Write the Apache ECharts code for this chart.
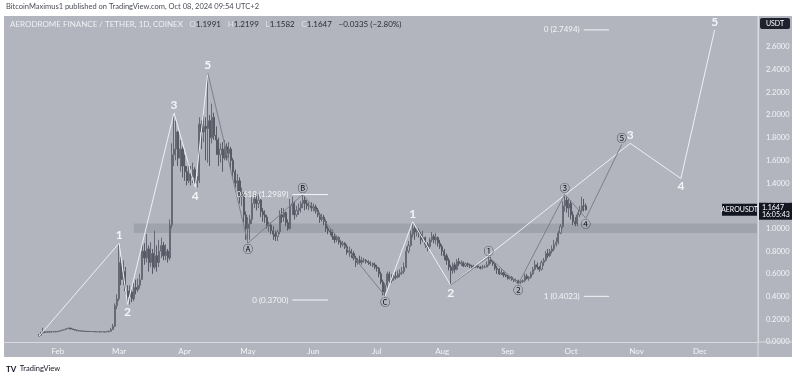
<!DOCTYPE html>
<html>
<head>
<meta charset="utf-8">
<script src="https://cdn.jsdelivr.net/npm/echarts@6/dist/echarts.min.js"></script>
<style>
  html, body { margin: 0; background: #fff; }
  #chart { width: 800px; height: 377px; }
</style>
</head>
<body>
<div id="chart"></div>
<script>
// AERO/USDT daily, 2024-01-23 .. 2024-10-08 (open = previous close)
const firstDay = "2024-01-23";
const firstOpen = 0.05;
const closes = [
  // Jan 23-31
  0.06, 0.08, 0.09, 0.085, 0.09, 0.088, 0.09, 0.092, 0.09,
  // Feb
  0.095, 0.1, 0.105, 0.11, 0.118, 0.122, 0.115, 0.11, 0.105, 0.1, 0.098, 0.097, 0.095, 0.094, 0.093,
  0.092, 0.092, 0.091, 0.09, 0.09, 0.089, 0.09, 0.088, 0.09, 0.095, 0.11, 0.14, 0.32, 0.38,
  // Mar
  0.7, 0.55, 0.62, 0.45, 0.4, 0.44, 0.38, 0.48, 0.46, 0.5, 0.55, 0.8, 0.74, 0.82, 0.7, 0.78,
  0.66, 0.76, 0.7, 0.8, 0.85, 0.76, 0.8, 0.74, 1.03, 1.65, 1.7, 1.85, 1.62, 1.7, 1.55,
  // Apr
  1.5, 1.42, 1.48, 1.45, 1.52, 1.4, 1.42, 1.92, 1.85, 1.9, 1.88, 1.95, 1.8, 1.98, 1.82,
  1.78, 1.65, 1.7, 1.62, 1.72, 1.66, 1.7, 1.6, 1.5, 1.4, 1.42, 1.28, 1.3, 1.12, 1.0,
  // May
  1.04, 1.08, 1.22, 1.26, 1.22, 1.25, 1.15, 1.12, 1.1, 1.02, 1.03, 0.98, 0.95, 0.93, 0.97, 1.12,
  1.1, 1.14, 1.05, 1.0, 1.2, 1.22, 1.12, 1.16, 1.18, 1.22, 1.25, 1.22, 1.2, 1.2, 1.18,
  // Jun
  1.19, 1.16, 1.12, 1.08, 1.1, 1.06, 1.0, 0.98, 0.97, 0.93, 0.9, 0.92, 0.88, 0.86, 0.87,
  0.84, 0.79, 0.8, 0.78, 0.74, 0.7, 0.72, 0.7, 0.72, 0.72, 0.71, 0.7, 0.69, 0.68, 0.66,
  // Jul
  0.65, 0.6, 0.53, 0.44, 0.5, 0.6, 0.54, 0.56, 0.58, 0.57, 0.6, 0.61, 0.62, 0.66, 0.8, 0.85,
  0.95, 1.0, 0.97, 0.98, 0.95, 0.9, 0.92, 0.86, 0.84, 0.9, 0.93, 0.9, 0.92, 0.87, 0.84,
  // Aug
  0.8, 0.76, 0.72, 0.66, 0.63, 0.68, 0.64, 0.71, 0.69, 0.7, 0.67, 0.69, 0.68, 0.67, 0.66, 0.66,
  0.67, 0.66, 0.65, 0.66, 0.66, 0.68, 0.72, 0.71, 0.69, 0.65, 0.64, 0.6, 0.61, 0.59, 0.58,
  // Sep
  0.56, 0.57, 0.55, 0.54, 0.54, 0.52, 0.53, 0.54, 0.58, 0.56, 0.57, 0.6, 0.64, 0.68, 0.66,
  0.64, 0.7, 0.72, 0.78, 0.76, 0.8, 0.82, 0.86, 0.88, 0.96, 1.02, 1.2, 1.25, 1.18, 1.22,
  // Oct 1-8
  1.12, 1.06, 1.04, 1.12, 1.16, 1.2, 1.1991, 1.1647,
];
const highs = [
  0.07, 0.09, 0.125, 0.095, 0.095, 0.093, 0.095, 0.097, 0.095,
  0.098, 0.103, 0.108, 0.113, 0.12, 0.128, 0.124, 0.117, 0.11, 0.106, 0.102, 0.1, 0.099, 0.097, 0.096,
  0.095, 0.095, 0.094, 0.093, 0.093, 0.092, 0.093, 0.092, 0.093, 0.1, 0.125, 0.16, 0.34, 0.42,
  0.87, 0.75, 0.72, 0.66, 0.5, 0.5, 0.48, 0.52, 0.55, 0.56, 0.6, 0.86, 0.87, 0.95, 0.85, 0.88,
  0.82, 0.98, 0.85, 0.9, 0.92, 0.88, 0.86, 0.82, 1.08, 1.75, 2.02, 1.95, 1.86, 1.78, 1.72,
  1.65, 1.55, 1.58, 1.55, 1.58, 1.54, 1.46, 1.98, 1.95, 2.0, 1.98, 2.37, 2.0, 2.1, 2.02,
  1.9, 1.8, 1.75, 1.76, 1.78, 1.75, 1.76, 1.72, 1.62, 1.52, 1.48, 1.45, 1.36, 1.32, 1.15,
  1.1, 1.12, 1.28, 1.3, 1.3, 1.3, 1.26, 1.18, 1.16, 1.12, 1.06, 1.05, 1.02, 0.98, 0.99, 1.16,
  1.18, 1.18, 1.15, 1.08, 1.26, 1.28, 1.24, 1.2, 1.22, 1.24, 1.3, 1.28, 1.25, 1.23, 1.23,
  1.22, 1.21, 1.18, 1.14, 1.13, 1.12, 1.08, 1.02, 1.0, 0.99, 0.95, 0.94, 0.93, 0.9, 0.89,
  0.88, 0.86, 0.84, 0.82, 0.8, 0.76, 0.74, 0.76, 0.75, 0.74, 0.73, 0.72, 0.71, 0.7, 0.7,
  0.68, 0.66, 0.62, 0.55, 0.52, 0.62, 0.62, 0.6, 0.6, 0.62, 0.63, 0.64, 0.66, 0.7, 0.84, 0.89,
  0.98, 1.06, 1.02, 1.01, 1.0, 0.97, 0.98, 0.93, 0.88, 0.92, 0.97, 0.95, 0.96, 0.93, 0.9,
  0.86, 0.82, 0.78, 0.74, 0.68, 0.7, 0.7, 0.73, 0.74, 0.72, 0.71, 0.7, 0.7, 0.69, 0.68, 0.68,
  0.68, 0.68, 0.67, 0.68, 0.68, 0.71, 0.75, 0.75, 0.72, 0.7, 0.67, 0.65, 0.64, 0.62, 0.6,
  0.59, 0.58, 0.58, 0.56, 0.56, 0.55, 0.54, 0.55, 0.6, 0.6, 0.58, 0.62, 0.66, 0.72, 0.7,
  0.67, 0.72, 0.74, 0.8, 0.82, 0.82, 0.85, 0.9, 0.92, 0.98, 1.04, 1.24, 1.3, 1.28, 1.27,
  1.25, 1.15, 1.1, 1.14, 1.2, 1.28, 1.26, 1.2199,
];
const lows = [
  0.045, 0.055, 0.075, 0.078, 0.083, 0.082, 0.085, 0.087, 0.085,
  0.088, 0.093, 0.098, 0.103, 0.108, 0.114, 0.11, 0.106, 0.1, 0.096, 0.095, 0.094, 0.092, 0.091, 0.09,
  0.089, 0.089, 0.088, 0.087, 0.087, 0.086, 0.087, 0.085, 0.086, 0.088, 0.093, 0.105, 0.13, 0.29,
  0.36, 0.5, 0.5, 0.42, 0.33, 0.33, 0.35, 0.36, 0.42, 0.44, 0.47, 0.55, 0.68, 0.7, 0.62, 0.66,
  0.6, 0.64, 0.62, 0.66, 0.74, 0.72, 0.72, 0.7, 0.72, 1.0, 1.55, 1.6, 1.55, 1.5, 1.45,
  1.42, 1.38, 1.4, 1.38, 1.4, 1.36, 1.36, 1.4, 1.7, 1.76, 1.6, 1.58, 1.55, 1.75, 1.78,
  1.65, 1.55, 1.58, 1.5, 1.6, 1.6, 1.62, 1.52, 1.45, 1.36, 1.3, 1.22, 1.2, 1.05, 0.9,
  0.87, 0.9, 1.04, 1.18, 1.16, 1.18, 1.1, 1.06, 1.05, 1.0, 0.97, 0.95, 0.9, 0.89, 0.89, 0.95,
  1.05, 1.06, 1.02, 0.98, 0.99, 1.12, 1.08, 1.1, 1.12, 1.14, 1.18, 1.16, 1.17, 1.16, 1.15,
  1.15, 1.13, 1.1, 1.05, 1.06, 1.03, 0.97, 0.95, 0.94, 0.9, 0.87, 0.88, 0.86, 0.83, 0.84,
  0.82, 0.77, 0.75, 0.74, 0.72, 0.66, 0.68, 0.69, 0.68, 0.7, 0.69, 0.68, 0.67, 0.66, 0.64,
  0.62, 0.57, 0.51, 0.41, 0.405, 0.48, 0.52, 0.52, 0.54, 0.55, 0.56, 0.57, 0.59, 0.6, 0.65, 0.78,
  0.84, 0.92, 0.9, 0.93, 0.92, 0.86, 0.88, 0.83, 0.8, 0.82, 0.88, 0.87, 0.86, 0.84, 0.82,
  0.76, 0.72, 0.68, 0.63, 0.5, 0.6, 0.61, 0.63, 0.67, 0.67, 0.66, 0.66, 0.66, 0.65, 0.64, 0.65,
  0.65, 0.65, 0.64, 0.64, 0.65, 0.66, 0.67, 0.69, 0.67, 0.63, 0.6, 0.59, 0.59, 0.57, 0.57,
  0.55, 0.55, 0.54, 0.53, 0.53, 0.51, 0.51, 0.52, 0.53, 0.55, 0.54, 0.56, 0.59, 0.63, 0.64,
  0.62, 0.63, 0.67, 0.71, 0.74, 0.75, 0.78, 0.8, 0.84, 0.86, 0.95, 1.0, 1.15, 1.14, 1.1,
  1.08, 1.03, 1.02, 1.02, 1.1, 1.14, 1.15, 1.1582,
];

// Elliott wave pivots: [date, price, label]
const waveMain = [["2024-01-23", 0.05, ""], ["2024-03-01", 0.87, "1"], ["2024-03-05", 0.33, "2"],
  ["2024-03-27", 2.02, "3"], ["2024-04-06", 1.36, "4"], ["2024-04-12", 2.37, "5"]];
const waveABC = [["2024-04-12", 2.37, ""], ["2024-05-01", 0.87, "Ⓐ"], ["2024-05-27", 1.3, "Ⓑ"],
  ["2024-07-05", 0.405, "Ⓒ"]];
const waveNew = [["2024-07-05", 0.405, ""], ["2024-07-18", 1.06, "1"], ["2024-08-05", 0.5, "2"],
  ["2024-10-29", 1.75, "3"], ["2024-11-22", 1.44, "4"], ["2024-12-08", 2.75, "5"]];
const waveSub = [["2024-08-05", 0.5, ""], ["2024-08-23", 0.75, "①"], ["2024-09-06", 0.51, "②"],
  ["2024-09-28", 1.3, "③"], ["2024-10-08", 1.09, "④"], ["2024-10-25", 1.74, "⑤"]];

// fib levels: [from, to, price, text]
const fibLevels = [
  ["2024-05-22", "2024-06-08", 1.2989, "0.618 (1.2989)"],
  ["2024-05-22", "2024-06-08", 0.37, "0 (0.3700)"],
  ["2024-10-07", "2024-10-19", 0.4023, "1 (0.4023)"],
  ["2024-10-07", "2024-10-19", 2.7494, "0 (2.7494)"],
];
const supportZone = [0.96, 1.045];
const supportFrom = "2024-03-08";

const axisFirstDay = "2024-01-07";
const axisDays = 357;
const monthNames = ["Jan", "Feb", "Mar", "Apr", "May", "Jun", "Jul", "Aug", "Sep", "Oct", "Nov", "Dec"];
const yTicks = { min: 0, max: 2.872, step: 0.2 };

function addDays(s, n) {
  const d = new Date(s + "T00:00:00Z");
  d.setUTCDate(d.getUTCDate() + n);
  return d.toISOString().slice(0, 10);
}

const categories = [];
for (let i = 0; i < axisDays; i++) categories.push(addDays(axisFirstDay, i));

const candleByDate = {};
closes.forEach((c, i) => {
  const o = i === 0 ? firstOpen : closes[i - 1];
  const h = Math.max(highs[i], o, c);
  const l = Math.min(lows[i], o, c);
  candleByDate[addDays(firstDay, i)] = [o, c, l, h];
});
const candleData = categories.map((d) => candleByDate[d] || "-");

const WHITE = "#f4f5f8";
const DARK = "#131722";
const numLabel = { color: WHITE, fontSize: 12, fontWeight: "bold", fontFamily: "Lato", distance: 2 };
const circLabel = { color: DARK, fontSize: 10, fontFamily: "Noto Sans CJK SC", distance: 1 };

function waveSeries(points, lineColor, labelStyle) {
  return {
    type: "line",
    symbol: "circle",
    symbolSize: 0,
    showSymbol: true,
    silent: true,
    z: 5,
    lineStyle: { color: lineColor, width: 1 },
    data: points.map((p, i) => ({
      value: [p[0], p[1]],
      label: {
        show: p[2] !== "",
        formatter: p[2],
        position: i > 0 && p[1] < points[i - 1][1] ? "bottom" : "top",
        ...labelStyle,
      },
    })),
  };
}

const fibSeries = fibLevels.map((f) => ({
  type: "line",
  symbol: "circle",
  symbolSize: 0,
  showSymbol: true,
  silent: true,
  z: 5,
  lineStyle: { color: WHITE, width: 1 },
  data: [
    { value: [f[0], f[2]], label: { show: true, position: "left", formatter: f[3], color: WHITE, fontSize: 8, fontFamily: "Lato", distance: 4 } },
    { value: [f[1], f[2]] },
  ],
}));

const chart = echarts.init(document.getElementById("chart"));

const option = {
  backgroundColor: "#ffffff",
  animation: false,
  grid: { left: 4, right: 42, top: 16, bottom: 35 },
  xAxis: {
    type: "category",
    data: categories,
    boundaryGap: true,
    axisLine: { lineStyle: { color: "#d8dae0" } },
    axisTick: { show: false },
    splitLine: { show: false },
    axisLabel: {
      interval: (idx, v) => v.endsWith("-01"),
      formatter: (v) => monthNames[Number(v.slice(5, 7)) - 1],
      color: WHITE,
      fontSize: 8,
      fontFamily: "Lato",
      margin: 5,
    },
  },
  yAxis: {
    type: "value",
    position: "right",
    min: yTicks.min,
    max: yTicks.max,
    interval: yTicks.step,
    axisLine: { show: true, lineStyle: { color: "#d8dae0" } },
    axisTick: { show: false },
    splitLine: { show: false },
    axisLabel: {
      formatter: (v) => (v > 2.7 ? "" : v.toFixed(4)),
      color: WHITE,
      fontSize: 7.5,
      fontFamily: "Lato",
      margin: 8,
    },
  },
  series: [
    {
      type: "candlestick",
      data: candleData,
      barWidth: 1.6,
      itemStyle: {
        color: "#b4b7be",
        borderColor: "#676a74",
        color0: "#585b65",
        borderColor0: "#585b65",
        borderWidth: 1,
      },
      markArea: {
        silent: true,
        itemStyle: { color: "rgba(120,123,134,0.32)" },
        data: [[
          { xAxis: supportFrom, yAxis: supportZone[0] },
          { xAxis: categories[categories.length - 1], yAxis: supportZone[1] },
        ]],
      },
    },
    waveSeries(waveMain, "#eef0f4", numLabel),
    waveSeries(waveABC, "#7d8089", circLabel),
    waveSeries(waveNew, "#eef0f4", numLabel),
    waveSeries(waveSub, "#7d8089", circLabel),
    ...fibSeries,
  ],
};

chart.setOption(option);

// price badges placed through the y scale
const last = closes[closes.length - 1];
const yLast = chart.convertToPixel({ yAxisIndex: 0 }, last);

chart.setOption({
  graphic: [
    { type: "rect", z: -10, shape: { x: 4, y: 16, width: 788, height: 341 }, style: { fill: "#b2b5be" } },
    { type: "line", z: 1, shape: { x1: 758, y1: 16, x2: 758, y2: 357 }, style: { stroke: "#d8dae0", lineWidth: 1 } },
    { type: "line", z: 1, shape: { x1: 758, y1: 342, x2: 792, y2: 342 }, style: { stroke: "#d8dae0", lineWidth: 1 } },
    {
      type: "text", left: 6, top: 3,
      style: { text: "BitcoinMaximus1 published on TradingView.com, Oct 08, 2024 09:54 UTC+2", fill: "#4a4d57", font: "7.5px Lato" },
    },
    {
      type: "text", left: 10, top: 18.5,
      style: {
        text: "{t|AERODROME FINANCE / TETHER, 1D, COINEX}  {k|O}{v|1.1991}  {k|H}{v|1.2199}  {k|L}{v|1.1582}  {k|C}{v|1.1647}  {v|−0.0335 (−2.80%)}",
        rich: {
          t: { fill: "#eef0f4", font: "8px Lato" },
          k: { fill: "#dfe1e6", font: "8px Lato" },
          v: { fill: "#2a2e39", font: "8px Lato" },
        },
      },
    },
    { type: "rect", shape: { x: 760, y: 18, width: 30, height: 11, r: 2 }, style: { fill: "#1e222d" } },
    { type: "text", x: 775, y: 23.5, style: { text: "USDT", fill: "#fff", font: "7px Lato", align: "center", verticalAlign: "middle" } },
    { type: "rect", z: 10, shape: { x: 722, y: yLast - 6, width: 35, height: 12 }, style: { fill: "#131722" } },
    { type: "text", z: 11, x: 739.5, y: yLast, style: { text: "AEROUSDT", fill: "#fff", font: "7px Lato", align: "center", verticalAlign: "middle" } },
    { type: "rect", z: 10, shape: { x: 759, y: yLast - 7, width: 33, height: 17 }, style: { fill: "#131722" } },
    { type: "text", z: 11, x: 762, y: yLast - 2.5, style: { text: String(last), fill: "#fff", font: "7px Lato", verticalAlign: "middle" } },
    { type: "text", z: 11, x: 762, y: yLast + 5, style: { text: "16:05:43", fill: "#fff", font: "7px Lato", verticalAlign: "middle" } },
    {
      type: "text", left: 6, top: 363,
      style: { text: "{b|TV} {n|TradingView}", rich: { b: { fill: "#131722", font: "bold 8px Lato" }, n: { fill: "#131722", font: "7.5px Lato" } } },
    },
  ],
});

window.addEventListener("resize", () => chart.resize());
</script>
</body>
</html>
